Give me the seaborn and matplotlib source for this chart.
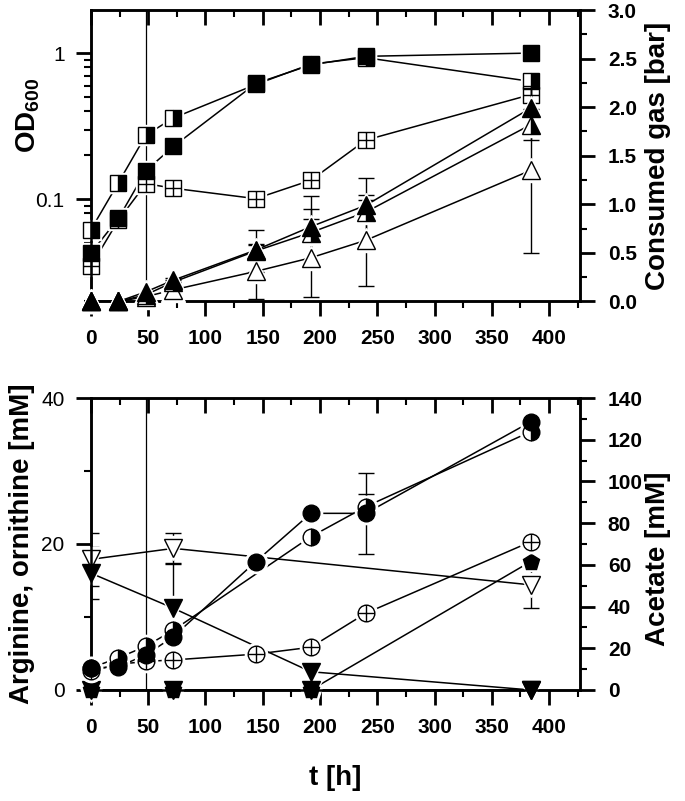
import numpy as np
import matplotlib
matplotlib.use('Agg')
import matplotlib.pyplot as plt
import matplotlib.lines as mlines
import seaborn as sns
from matplotlib.path import Path
from matplotlib.ticker import NullFormatter

# ---- data ----
# time points [h]
t_all = [0, 24, 48, 72, 144, 192, 240, 384]

# OD600 (left, log axis)
od_filled = [0.043, 0.074, 0.157, 0.23, 0.62, 0.83, 0.95, 1.0]
od_half = [0.062, 0.13, 0.275, 0.36, 0.61, 0.84, 0.93, 0.64]
od_cross = [0.035, 0.072, 0.128, 0.119, 0.101, 0.135, 0.254, 0.52]

# consumed gas [bar] (right axis)
gas_filled = [0, 0, 0.10, 0.22, 0.53, 0.77, 0.99, 1.99]
gas_filled_err = [0, 0, 0, 0.02, 0.05, 0.18, 0.05, 0.23]
gas_half = [0, 0, 0.07, 0.20, 0.52, 0.71, 0.92, 1.82]
gas_half_err = [0, 0, 0, 0.02, 0.22, 0.38, 0.35, 0.16]
gas_open = [0, 0, 0.05, 0.12, 0.31, 0.45, 0.63, 1.35]
gas_open_err = [0, 0, 0, 0.02, 0.28, 0.40, 0.47, 0.85]

# acetate [mM] (right axis, bottom panel)
ace_filled = [10.4, 11.2, 16.8, 25.6, 61.6, 84.7, 84.7, 128.6]
ace_filled_err = [0, 0, 0, 0, 0, 0, 19.3, 0]
t_half = [0, 24, 48, 72, 192, 240, 384]
ace_half = [10.6, 15.4, 21.0, 28.7, 73.5, 87.9, 123.9]
ace_half_err = [0, 0, 0, 3.0, 0, 6.0, 3.5]
ace_cross = [9.1, 12.3, 13.7, 14.4, 17.2, 20.5, 36.8, 71.1]

# arginine / ornithine [mM] (left axis, bottom panel)
t_arg = [0, 72, 192, 384]
arg_filled = [16.0, 11.2, 2.5, 0]
arg_filled_err = [3.6, 6.2, 0, 0]
t_arg_open = [0, 72, 384]
arg_open = [17.9, 19.4, 14.4]
arg_open_err = [3.6, 2.1, 3.2]
orn_filled = [0, 0, 0, 17.6]
orn_zero = [0, 0, 0, 0]

# thin vertical marker line [h]
vline_t = 48

# axis ticks
x_major = [0, 50, 100, 150, 200, 250, 300, 350, 400]
x_minor = [25, 75, 125, 175, 225, 275, 325, 375, 425]
od_ticks = [0.1, 1]
od_labels = ['0.1', '1']
gas_ticks = [0.0, 0.5, 1.0, 1.5, 2.0, 2.5, 3.0]
gas_minor = [0.25, 0.75, 1.25, 1.75, 2.25, 2.75]
arg_ticks = [0, 20, 40]
arg_minor = [10, 30]
ace_ticks = [0, 20, 40, 60, 80, 100, 120, 140]
ace_minor = [10, 30, 50, 70, 90, 110, 130]

# ---- style ----
sns.set_theme(style='ticks')
plt.rcParams['font.family'] = ['Liberation Sans', 'DejaVu Sans']
plt.rcParams['mathtext.fontset'] = 'custom'
plt.rcParams['mathtext.rm'] = 'Liberation Sans'
plt.rcParams['mathtext.bf'] = 'Liberation Sans:bold'
plt.rcParams['axes.linewidth'] = 1.8
plt.rcParams['axes.edgecolor'] = 'black'
plt.rcParams['text.color'] = 'black'
plt.rcParams['axes.labelcolor'] = 'black'
plt.rcParams['xtick.color'] = 'black'
plt.rcParams['ytick.color'] = 'black'

TICK_FS = 15

# custom markers: square / circle with a cross inside
sq_cross = Path.make_compound_path(
    Path([(-1, -1), (1, -1), (1, 1), (-1, 1), (-1, -1)],
         [Path.MOVETO, Path.LINETO, Path.LINETO, Path.LINETO, Path.CLOSEPOLY]),
    Path([(-1, 0), (1, 0)]),
    Path([(0, -1), (0, 1)]))
circ_cross = Path.make_compound_path(
    Path.unit_circle(),
    Path([(-1, 0), (1, 0)]),
    Path([(0, -1), (0, 1)]))


def series(ax, t, y, marker, ms, face='black', fill='full', err=None):
    sns.lineplot(x=t, y=y, ax=ax, color='black', linewidth=1.1,
                 estimator=None, sort=False, zorder=2)
    if err is not None:
        te = [a for a, e in zip(t, err) if e > 0]
        ye = [b for b, e in zip(y, err) if e > 0]
        ee = [e for e in err if e > 0]
        ax.errorbar(te, ye, yerr=ee, fmt='none', ecolor='black',
                    elinewidth=1.0, capsize=6, capthick=1.0, zorder=2)
    # white halo -> gap between line and symbol
    ax.plot(t, y, ls='none', marker=marker, ms=ms + 4, mfc='white',
            mec='white', zorder=3, clip_on=False)
    ax.plot(t, y, ls='none', marker=marker, ms=ms, mfc=face, mec='black',
            mew=1.0, fillstyle=fill, markerfacecoloralt='white',
            zorder=4, clip_on=False)


def style_x(ax):
    ax.set_xlim(0, 427)
    ax.set_xticks(x_major, labels=[str(v) for v in x_major],
                  fontweight='bold', fontsize=TICK_FS)
    ax.set_xticks(x_minor, minor=True)
    ax.tick_params(axis='x', which='both', direction='out', top=True,
                   labeltop=False)
    ax.tick_params(axis='x', which='major', length=11, width=2, pad=9)
    ax.tick_params(axis='x', which='minor', length=5, width=1.5)
    # bottom ticks point out, top ticks point into the frame
    ticks = (ax.xaxis.get_major_ticks(len(x_major))
             + ax.xaxis.get_minor_ticks(len(x_minor)))
    for tk in ticks:
        tk.tick2line.set_visible(True)
        tk.tick2line.set_marker(mlines.TICKDOWN)


fig = plt.figure(figsize=(6.85, 8.01), dpi=100)
ax1 = fig.add_axes([0.1328, 0.6236, 0.7139, 0.3639])
ax2 = ax1.twinx()
ax3 = fig.add_axes([0.1328, 0.1386, 0.7139, 0.3645])
ax4 = ax3.twinx()

# ---- top panel ----
ax1.set_yscale('log')
ax1.axvline(vline_t, color='black', lw=0.9, zorder=1)
series(ax1, t_all, od_cross, sq_cross, 11, face='white')
series(ax1, t_all, od_half, 's', 11, fill='right')
series(ax1, t_all, od_filled, 's', 11)
series(ax2, t_all, gas_open, '^', 13, face='white', err=gas_open_err)
series(ax2, t_all, gas_half, '^', 13, fill='right', err=gas_half_err)
series(ax2, t_all, gas_filled, '^', 13, err=gas_filled_err)

ax1.set_ylim(0.02, 1.97)
ax1.set_yticks(od_ticks, labels=od_labels, fontsize=TICK_FS)
ax1.yaxis.set_minor_formatter(NullFormatter())
ax1.tick_params(axis='y', which='major', direction='out', length=11,
                width=2, pad=8)
ax1.tick_params(axis='y', which='minor', direction='out', length=5,
                width=1.5)
style_x(ax1)

ax2.set_ylim(0, 3.0)
ax2.set_yticks(gas_ticks, labels=[f'{v:.1f}' for v in gas_ticks],
               fontweight='bold', fontsize=TICK_FS)
ax2.set_yticks(gas_minor, minor=True)
ax2.tick_params(axis='y', which='major', direction='out', length=11,
                width=2, pad=9)
ax2.tick_params(axis='y', which='minor', direction='out', length=5,
                width=1.5)

# ---- bottom panel ----
ax3.axvline(vline_t, color='black', lw=0.9, zorder=1)
series(ax3, t_arg, orn_zero, 'v', 13)
series(ax3, t_arg, orn_filled, 'p', 12)
series(ax3, t_arg_open, arg_open, 'v', 13, face='white', err=arg_open_err)
series(ax3, t_arg, arg_filled, 'v', 13, err=arg_filled_err)
series(ax4, t_all, ace_cross, circ_cross, 12, face='white')
series(ax4, t_half, ace_half, 'o', 12, fill='right', err=ace_half_err)
series(ax4, t_all, ace_filled, 'o', 12, err=ace_filled_err)

ax3.set_ylim(0, 40)
ax3.set_yticks(arg_ticks, labels=[str(v) for v in arg_ticks],
               fontsize=TICK_FS)
ax3.set_yticks(arg_minor, minor=True)
ax3.tick_params(axis='y', which='major', direction='out', length=11,
                width=2, pad=8)
ax3.tick_params(axis='y', which='minor', direction='out', length=5,
                width=1.5)
style_x(ax3)

ax4.set_ylim(0, 140)
ax4.set_yticks(ace_ticks, labels=[str(v) for v in ace_ticks],
               fontweight='bold', fontsize=TICK_FS)
ax4.set_yticks(ace_minor, minor=True)
ax4.tick_params(axis='y', which='major', direction='out', length=11,
                width=2, pad=9)
ax4.tick_params(axis='y', which='minor', direction='out', length=5,
                width=1.5)

# ---- axis labels ----
lab_kw = dict(fontsize=20, fontweight='bold', color='black')
ax1.set_ylabel(r'OD$_{\mathbf{600}}$', **lab_kw)
ax2.set_ylabel('Consumed gas [bar]', **lab_kw)
ax3.set_ylabel('Arginine, ornithine [mM]', **lab_kw)
ax4.set_ylabel('Acetate [mM]', **lab_kw)
ax3.set_xlabel('t [h]', **lab_kw)
for ax in (ax1, ax2, ax3, ax4):
    ax.yaxis.label.set(ha='center', va='center', rotation_mode='anchor')
ax3.xaxis.label.set(va='center')

ax1.yaxis.set_label_coords(-0.129, 0.64)
ax2.yaxis.set_label_coords(1.16, 0.50)
ax3.yaxis.set_label_coords(-0.141, 0.50)
ax4.yaxis.set_label_coords(1.16, 0.45)
ax3.xaxis.set_label_coords(0.5, -0.30)

for ax in (ax1, ax2, ax3, ax4):
    for s in ax.spines.values():
        s.set_linewidth(1.8)
        s.set_color('black')

fig.savefig('out.png', dpi=100)
